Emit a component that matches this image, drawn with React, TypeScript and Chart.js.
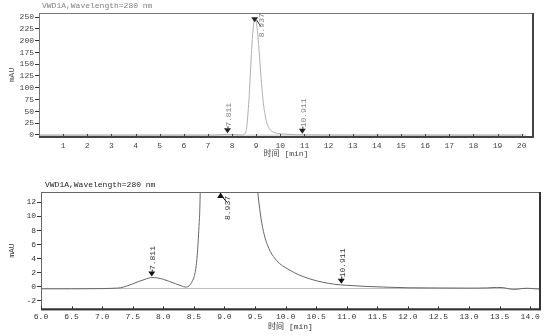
import React, { useEffect, useRef } from "react";
import { Chart, registerables } from "chart.js";

Chart.register(...registerables);

// ---- data ----
const timeMin = [
  0, 1, 2, 3, 4, 5, 6, 6.5, 7.0, 7.2, 7.3, 7.4, 7.5, 7.6, 7.7, 7.81, 7.9, 8.0, 8.1, 8.2, 8.3,
  8.36, 8.4, 8.44, 8.48, 8.52, 8.55, 8.58, 8.6, 8.65, 8.7, 8.75, 8.8, 8.85, 8.9, 8.95, 9.0,
  9.05, 9.1, 9.15, 9.2, 9.25, 9.3, 9.35, 9.4, 9.45, 9.5, 9.55, 9.6, 9.65, 9.7, 9.75, 9.8,
  9.9, 10.0, 10.1, 10.2, 10.4, 10.6, 10.8, 11.0, 11.3, 11.6, 12.0, 12.5, 13.0, 13.3, 13.45,
  13.55, 13.65, 13.75, 13.85, 13.95, 14.05, 14.15, 15, 16, 17, 18, 19, 20,
];
const signalMAU = [
  -0.3, -0.3, -0.3, -0.3, -0.3, -0.3, -0.3, -0.3, -0.27, -0.22, -0.15, 0.1, 0.4, 0.75, 1.05, 1.3, 1.25, 1.05, 0.75, 0.42, 0.12,
  -0.05, 0.0, 0.3, 0.9, 2.0, 4.0, 8.0, 12, 40, 75, 122, 170, 212, 238, 245, 240,
  222, 192, 158, 122, 92, 66, 48, 34, 24, 17.5, 13, 9.6, 7.4, 6.0, 5.0, 4.3,
  3.3, 2.7, 2.2, 1.75, 1.1, 0.65, 0.35, 0.2, 0.05, -0.05, -0.15, -0.18, -0.2, -0.17, -0.1,
  -0.12, -0.3, -0.38, -0.28, -0.22, -0.28, -0.33, -0.3, -0.3, -0.3, -0.3, -0.3, -0.3,
];
const baselineTime = [0, 20.2];
const baselineMAU = [-0.25, -0.25];

const peakTimes = [7.811, 8.937, 10.911];
const peakLabels = ["7.811", "8.937", "10.911"];

const topXTicks = [1, 2, 3, 4, 5, 6, 7, 8, 9, 10, 11, 12, 13, 14, 15, 16, 17, 18, 19, 20];
const topYTicks = [0, 25, 50, 75, 100, 125, 150, 175, 200, 225, 250];
const bottomXTicks = [6.0, 6.5, 7.0, 7.5, 8.0, 8.5, 9.0, 9.5, 10.0, 10.5, 11.0, 11.5, 12.0, 12.5, 13.0, 13.5, 14.0];
const bottomYTicks = [-2, 0, 2, 4, 6, 8, 10, 12];

const titleText = "VWD1A,Wavelength=280 nm";
const xTitleText = "时间 [min]";
const yTitleText = "mAU";

const FONT = '"Liberation Mono", "Noto Sans CJK SC", monospace';

function valueAt(t: number): number {
  for (let i = 0; i < timeMin.length - 1; i++) {
    if (t >= timeMin[i] && t <= timeMin[i + 1]) {
      const f = (t - timeMin[i]) / (timeMin[i + 1] - timeMin[i]);
      return signalMAU[i] + f * (signalMAU[i + 1] - signalMAU[i]);
    }
  }
  return signalMAU[signalMAU.length - 1];
}

const chromoPlugin = {
  id: "chromo",
  afterDatasetsDraw(chart: any, _args: any, o: any) {
    const { ctx, chartArea: a, scales } = chart;
    const xs = scales.x;
    const ys = scales.y;
    ctx.save();

    // frame
    ctx.strokeStyle = o.frameColor;
    ctx.lineWidth = 1;
    ctx.strokeRect(a.left + 0.5, a.top + 0.5, a.right - a.left, a.bottom - a.top);
    ctx.lineWidth = 2;
    ctx.strokeStyle = o.frameDark;
    ctx.beginPath();
    ctx.moveTo(a.right, a.top);
    ctx.lineTo(a.right, a.bottom);
    ctx.lineTo(a.left, a.bottom);
    ctx.stroke();

    // inward x ticks
    ctx.lineWidth = 1;
    ctx.strokeStyle = o.frameDark;
    xs.ticks.forEach((tk: any) => {
      const px = Math.round(xs.getPixelForValue(tk.value)) + 0.5;
      ctx.beginPath();
      ctx.moveTo(px, a.bottom);
      ctx.lineTo(px, a.bottom - 3);
      ctx.stroke();
    });

    // texts
    ctx.fillStyle = o.titleColor;
    ctx.font = `8px ${FONT}`;
    ctx.textAlign = "left";
    ctx.textBaseline = "middle";
    ctx.fillText(titleText, a.left + o.titleDx, a.top - 7);

    ctx.fillStyle = o.axisTitleColor;
    ctx.textAlign = "center";
    ctx.fillText(xTitleText, (a.left + a.right) / 2, a.bottom + o.xTitleDy);
    ctx.save();
    ctx.translate(12, (a.top + a.bottom) / 2);
    ctx.rotate(-Math.PI / 2);
    ctx.fillText(yTitleText, 0, 0);
    ctx.restore();

    // peak markers
    peakTimes.forEach((t, i) => {
      const px = xs.getPixelForValue(t);
      const py = ys.getPixelForValue(valueAt(t));
      ctx.fillStyle = o.markerColor;
      ctx.strokeStyle = o.markerColor;
      ctx.lineWidth = 1;
      ctx.font = `8px ${FONT}`;
      let lx: number, ly: number, align: CanvasTextAlign;
      if (py < a.top + 6) {
        // clamped: up triangle at top edge
        ctx.beginPath();
        ctx.moveTo(px, a.top + 0.5);
        ctx.lineTo(px - 3.5, a.top + 6);
        ctx.lineTo(px + 3.5, a.top + 6);
        ctx.closePath();
        ctx.fill();
        ctx.beginPath();
        ctx.moveTo(px + 2, a.top + 5);
        ctx.lineTo(px + 6, a.top + 10);
        ctx.stroke();
        lx = px + 7;
        ly = a.top + 16;
        align = "center";
      } else if (py - 28 < a.top) {
        ctx.beginPath();
        ctx.moveTo(px, py + 2);
        ctx.lineTo(px - 3.5, py - 3);
        ctx.lineTo(px + 3.5, py - 3);
        ctx.closePath();
        ctx.fill();
        ctx.beginPath();
        ctx.moveTo(px + 2, py);
        ctx.lineTo(px + 6, py + 6);
        ctx.stroke();
        lx = px + 7.5;
        ly = py + 5;
        align = "center";
      } else {
        const tip = py - 1;
        ctx.beginPath();
        ctx.moveTo(px, tip);
        ctx.lineTo(px - 3.5, tip - 5);
        ctx.lineTo(px + 3.5, tip - 5);
        ctx.closePath();
        ctx.fill();
        ctx.beginPath();
        ctx.moveTo(px + 0.5, tip - 5);
        ctx.lineTo(px + 0.5, tip - 7);
        ctx.stroke();
        lx = px + 1.5;
        ly = tip - 6.5;
        align = "left";
      }
      ctx.fillStyle = o.labelColor;
      ctx.save();
      ctx.translate(lx, ly);
      ctx.rotate(-Math.PI / 2);
      ctx.textAlign = align;
      ctx.textBaseline = "middle";
      ctx.fillText(peakLabels[i], 0, 0);
      ctx.restore();
    });

    ctx.restore();
  },
};

type Cfg = {
  xMin: number;
  xMax: number;
  yMin: number;
  yMax: number;
  xTicks: number[];
  yTicks: number[];
  xDigits: number;
  pad: { left: number; top: number; right: number; bottom: number };
  yWidth: number;
  xHeight: number;
  xLabelPad: number;
  xFont: number;
  lineColor: string;
  baseColor: string;
  tickColor: string;
  plugin: any;
};

function ChromChart({ cfg }: { cfg: Cfg }) {
  const ref = useRef<HTMLCanvasElement | null>(null);
  useEffect(() => {
    if (!ref.current) return;
    const chart = new Chart(ref.current, {
      type: "line",
      data: {
        datasets: [
          {
            data: timeMin.map((t, i) => ({ x: t, y: signalMAU[i] })),
            borderColor: cfg.lineColor,
            borderWidth: 1,
            pointRadius: 0,
            cubicInterpolationMode: "monotone",
            fill: false,
          },
          {
            data: baselineTime.map((t, i) => ({ x: t, y: baselineMAU[i] })),
            borderColor: cfg.baseColor,
            borderWidth: 1,
            pointRadius: 0,
            fill: false,
          },
        ],
      },
      options: {
        animation: false,
        responsive: false,
        events: [],
        layout: { padding: cfg.pad },
        plugins: {
          legend: { display: false },
          tooltip: { enabled: false },
          title: { display: false },
          chromo: cfg.plugin,
        } as any,
        scales: {
          x: {
            type: "linear",
            min: cfg.xMin,
            max: cfg.xMax,
            afterBuildTicks: (axis: any) => {
              axis.ticks = cfg.xTicks.map((v) => ({ value: v }));
            },
            afterFit: (scale: any) => {
              scale.height = cfg.xHeight;
            },
            grid: { display: false, drawTicks: false },
            border: { display: false },
            ticks: {
              autoSkip: false,
              maxRotation: 0,
              padding: cfg.xLabelPad,
              color: cfg.tickColor,
              font: { family: FONT, size: cfg.xFont },
              callback: (v: any) => Number(v).toFixed(cfg.xDigits),
            },
          },
          y: {
            type: "linear",
            min: cfg.yMin,
            max: cfg.yMax,
            afterBuildTicks: (axis: any) => {
              axis.ticks = cfg.yTicks.map((v) => ({ value: v }));
            },
            afterFit: (scale: any) => {
              scale.width = cfg.yWidth;
            },
            grid: {
              display: true,
              drawOnChartArea: false,
              drawTicks: true,
              tickLength: 4,
              color: "#333",
            },
            border: { display: false },
            ticks: {
              autoSkip: false,
              padding: 1,
              color: cfg.tickColor,
              font: { family: FONT, size: 8 },
              callback: (v: any) => String(v),
            },
          },
        },
      } as any,
      plugins: [chromoPlugin as any],
    });
    return () => chart.destroy();
  }, []);
  return (
    <canvas
      ref={ref}
      width={555}
      height={168}
      style={{ display: "block", width: 555, height: 168 }}
    />
  );
}

const topCfg: Cfg = {
  xMin: 0,
  xMax: 20.47,
  yMin: -4.3,
  yMax: 258.5,
  xTicks: topXTicks,
  yTicks: topYTicks,
  xDigits: 0,
  pad: { left: 0, top: 13, right: 22, bottom: 0 },
  yWidth: 39,
  xHeight: 31,
  xLabelPad: 4,
  xFont: 8,
  lineColor: "#b0b0b0",
  baseColor: "#c4c4c4",
  tickColor: "#444",
  plugin: {
    frameColor: "#777",
    frameDark: "#444",
    titleColor: "#808080",
    axisTitleColor: "#444",
    markerColor: "#222",
    labelColor: "#808080",
    titleDx: 3,
    xTitleDy: 16.5,
  },
};

const bottomCfg: Cfg = {
  xMin: 6.0,
  xMax: 14.16,
  yMin: -3.21,
  yMax: 13.46,
  xTicks: bottomXTicks,
  yTicks: bottomYTicks,
  xDigits: 1,
  pad: { left: 0, top: 24, right: 15, bottom: 0 },
  yWidth: 41,
  xHeight: 26.7,
  xLabelPad: 3,
  xFont: 8,
  lineColor: "#666",
  baseColor: "#bdbdbd",
  tickColor: "#333",
  plugin: {
    frameColor: "#666",
    frameDark: "#333",
    titleColor: "#222",
    axisTitleColor: "#333",
    markerColor: "#111",
    labelColor: "#333",
    titleDx: 4,
    xTitleDy: 18,
  },
};

export default function App() {
  return (
    <div
      style={{
        position: "absolute",
        left: 0,
        top: 0,
        width: 555,
        height: 336,
        background: "#fff",
        overflow: "hidden",
      }}
    >
      <ChromChart cfg={topCfg} />
      <ChromChart cfg={bottomCfg} />
    </div>
  );
}
